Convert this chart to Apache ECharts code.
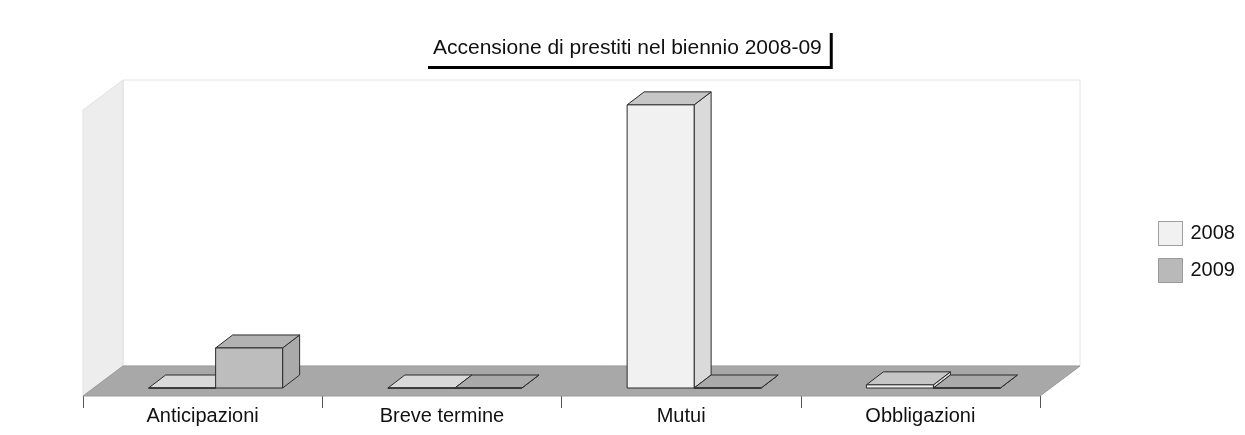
<!DOCTYPE html>
<html>
<head>
<meta charset="utf-8">
<title>Accensione di prestiti nel biennio 2008-09</title>
<script src="https://cdn.jsdelivr.net/npm/echarts@6/dist/echarts.min.js"></script>
<style>
  html, body { margin: 0; padding: 0; background: #fff; }
  #chart { width: 1245px; height: 435px; }
</style>
</head>
<body>
<div id="chart"></div>
<script>
// dati (valori relativi, asse Y non visibile)
const categories = ["Anticipazioni", "Breve termine", "Mutui", "Obbligazioni"];
const values2008 = [0, 0, 9900, 110];
const values2009 = [1400, 0, 0, 0];
const seriesNames = ["2008", "2009"];
const yMax = 10000;

// effetto 3D
const FLOOR_DX = 40, FLOOR_DY = -30;   // profondita' del pavimento
const SHIFT_X = 13, SHIFT_Y = -8;      // piano frontale delle barre
const BAR_DX = 17, BAR_DY = -13;       // profondita' delle barre
const BAR_RATIO = 0.28;

const palette = {
  "2008": { front: "#f1f1f1", top: "#c6c6c6", side: "#dadada", flat: "#d9d9d9" },
  "2009": { front: "#bdbdbd", top: "#b2b2b2", side: "#aaaaaa", flat: "#a9a9a9" }
};

function renderFrame(params, api) {
  const cs = params.coordSys;
  const x0 = cs.x, x1 = cs.x + cs.width;
  const yTop = cs.y, yBase = cs.y + cs.height;
  return {
    type: "group",
    children: [
      { // parete di fondo
        type: "rect",
        shape: { x: x0 + FLOOR_DX, y: yTop + FLOOR_DY, width: cs.width, height: cs.height },
        style: { fill: "#ffffff", stroke: "#e4e4e4", lineWidth: 1 }
      },
      { // parete sinistra
        type: "polygon",
        shape: { points: [[x0, yBase], [x0 + FLOOR_DX, yBase + FLOOR_DY], [x0 + FLOOR_DX, yTop + FLOOR_DY], [x0, yTop]] },
        style: { fill: "#ededed", stroke: "#e2e2e2", lineWidth: 1 }
      },
      { // pavimento
        type: "polygon",
        shape: { points: [[x0, yBase], [x1, yBase], [x1 + FLOOR_DX, yBase + FLOOR_DY], [x0 + FLOOR_DX, yBase + FLOOR_DY]] },
        style: { fill: "#a8a8a8", stroke: "#9a9a9a", lineWidth: 1 }
      }
    ]
  };
}

function makeBar(side, colors) {
  return function (params, api) {
    const cat = api.value(0);
    const val = api.value(1);
    const base = api.coord([cat, 0]);
    const top = api.coord([cat, val]);
    const w = api.size([1, 0])[0] * BAR_RATIO;
    const x0 = base[0] + SHIFT_X + (side < 0 ? -w : 0);
    const x1 = x0 + w;
    const yb = base[1] + SHIFT_Y;
    const yt = top[1] + SHIFT_Y;
    const line = { stroke: "#2b2b2b", lineWidth: 1 };
    const flat = yb - yt < 1;
    return {
      type: "group",
      children: [
        {
          type: "polygon",
          shape: { points: [[x1, yb], [x1 + BAR_DX, yb + BAR_DY], [x1 + BAR_DX, yt + BAR_DY], [x1, yt]] },
          style: Object.assign({ fill: colors.side }, line)
        },
        {
          type: "polygon",
          shape: { points: [[x0, yt], [x1, yt], [x1 + BAR_DX, yt + BAR_DY], [x0 + BAR_DX, yt + BAR_DY]] },
          style: Object.assign({ fill: flat ? colors.flat : colors.top }, line)
        },
        {
          type: "rect",
          shape: { x: x0, y: yt, width: w, height: yb - yt },
          style: Object.assign({ fill: colors.front }, line)
        }
      ]
    };
  };
}

const chart = echarts.init(document.getElementById("chart"));
chart.setOption({
  backgroundColor: "#ffffff",
  animation: false,
  textStyle: { fontFamily: "Arial, 'Liberation Sans', sans-serif" },
  title: {
    text: "Accensione di prestiti nel biennio 2008-09",
    left: 425,
    top: 30,
    padding: [8, 8, 7, 8],
    backgroundColor: "#ffffff",
    borderWidth: 0,
    shadowColor: "#000000",
    shadowOffsetX: 3,
    shadowOffsetY: 3,
    shadowBlur: 0,
    textStyle: { fontSize: 21, fontWeight: "normal", color: "#111" }
  },
  legend: {
    orient: "vertical",
    left: 1153,
    top: 216,
    itemWidth: 24,
    itemHeight: 24,
    itemGap: 12,
    icon: "rect",
    textStyle: { fontSize: 20, color: "#111", padding: [0, 0, 0, 3] },
    data: [
      { name: "2008", itemStyle: { color: "#f1f1f1", borderColor: "#444", borderWidth: 1, borderType: "dotted" } },
      { name: "2009", itemStyle: { color: "#b9b9b9", borderColor: "#999", borderWidth: 1 } }
    ]
  },
  grid: { left: 83, right: 205, top: 110, bottom: 39 },
  xAxis: {
    type: "category",
    data: categories,
    axisLine: { show: false },
    axisTick: { show: true, length: 12, lineStyle: { color: "#555" } },
    axisLabel: { fontSize: 20, color: "#111", margin: 10 }
  },
  yAxis: {
    type: "value",
    min: 0,
    max: yMax,
    show: false
  },
  series: [
    {
      type: "custom",
      name: "frame",
      silent: true,
      z: 1,
      renderItem: renderFrame,
      data: [[0, 0]]
    },
    {
      type: "custom",
      name: seriesNames[0],
      z: 2,
      itemStyle: { color: "#f1f1f1" },
      encode: { x: 0, y: 1 },
      renderItem: makeBar(-1, palette["2008"]),
      data: categories.map((c, i) => [i, values2008[i]])
    },
    {
      type: "custom",
      name: seriesNames[1],
      z: 3,
      itemStyle: { color: "#b9b9b9" },
      encode: { x: 0, y: 1 },
      renderItem: makeBar(1, palette["2009"]),
      data: categories.map((c, i) => [i, values2009[i]])
    }
  ]
});
</script>
</body>
</html>
